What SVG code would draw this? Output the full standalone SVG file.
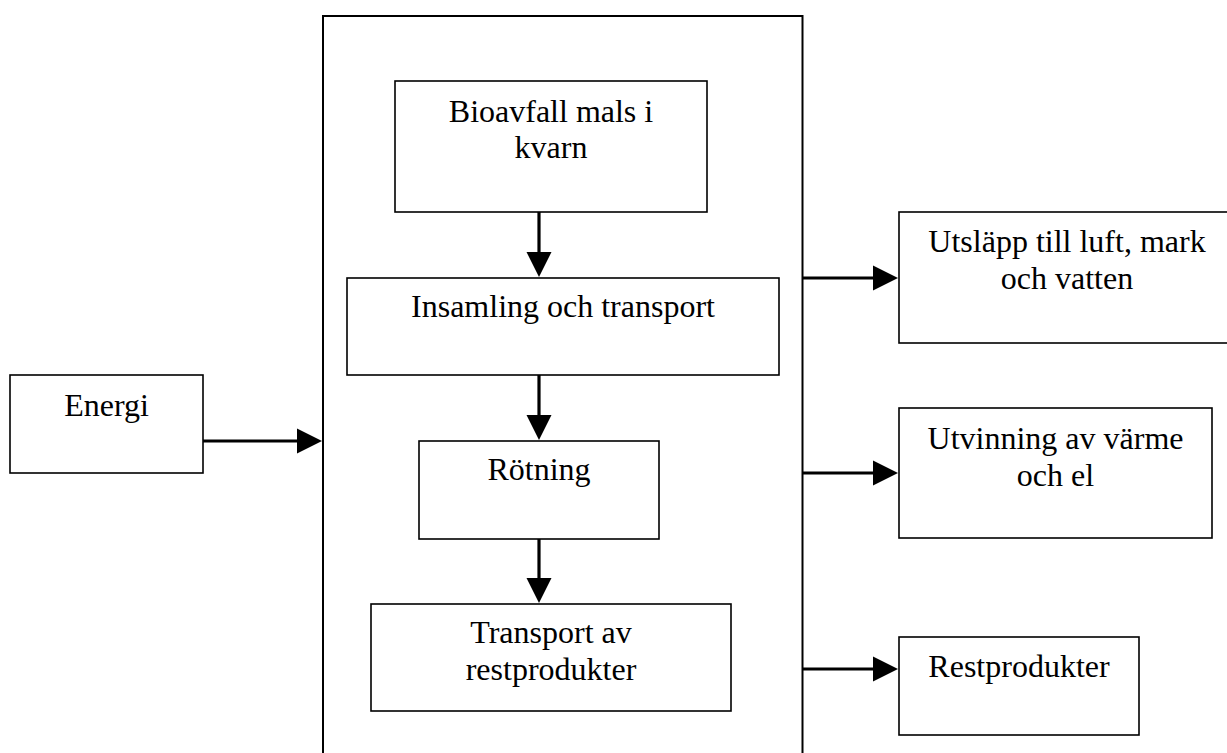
<svg xmlns="http://www.w3.org/2000/svg" width="1227" height="753" viewBox="0 0 1227 753">
<style>
.box{fill:#fff;stroke:#000;stroke-width:1.6}
.frame{fill:none;stroke:#000;stroke-width:2}
.t{font-family:"Liberation Serif","Times New Roman",serif;font-size:32px;fill:#000;text-anchor:middle}
.c{stroke:#000;stroke-width:3.2;fill:none}
.h{fill:#000;stroke:none}
</style>
<rect width="1227" height="753" fill="#fff"/>
<g id="container"><path class="frame" d="M323 760 V16 H802.5 V760"/></g>
<g id="n-bioavfall"><rect class="box" x="395" y="81" width="312" height="131"/><text class="t" x="551" y="122">Bioavfall mals i</text><text class="t" x="551" y="158">kvarn</text></g>
<g id="n-insamling"><rect class="box" x="347" y="278" width="432" height="97"/><text class="t" x="563" y="317">Insamling och transport</text></g>
<g id="n-rotning"><rect class="box" x="419" y="441" width="240" height="98"/><text class="t" x="539" y="480">Rötning</text></g>
<g id="n-transport"><rect class="box" x="371" y="604" width="360" height="107"/><text class="t" x="551" y="643">Transport av</text><text class="t" x="551" y="680">restprodukter</text></g>
<g id="n-energi"><rect class="box" x="10" y="375" width="193" height="98"/><text class="t" x="106.5" y="416">Energi</text></g>
<g id="n-utslapp"><rect class="box" x="899" y="212" width="337" height="131"/><text class="t" x="1067" y="252">Utsläpp till luft, mark</text><text class="t" x="1067" y="289">och vatten</text></g>
<g id="n-utvinning"><rect class="box" x="899" y="408" width="313" height="130"/><text class="t" x="1055.5" y="449">Utvinning av värme</text><text class="t" x="1055.5" y="486">och el</text></g>
<g id="n-restprodukter"><rect class="box" x="899" y="637" width="240" height="98"/><text class="t" x="1019" y="677">Restprodukter</text></g>
<g id="connectors">
<line class="c" x1="539" y1="212" x2="539" y2="253"/><polygon class="h" points="526.5,252 551.5,252 539,277"/>
<line class="c" x1="539" y1="375" x2="539" y2="416"/><polygon class="h" points="526.5,415 551.5,415 539,440"/>
<line class="c" x1="539" y1="539" x2="539" y2="579"/><polygon class="h" points="526.5,578 551.5,578 539,603"/>
<line class="c" x1="203" y1="441" x2="298" y2="441"/><polygon class="h" points="297,428.5 297,453.5 322,441"/>
<line class="c" x1="803" y1="278" x2="874" y2="278"/><polygon class="h" points="873,265.5 873,290.5 898,278"/>
<line class="c" x1="803" y1="473" x2="874" y2="473"/><polygon class="h" points="873,460.5 873,485.5 898,473"/>
<line class="c" x1="803" y1="669" x2="874" y2="669"/><polygon class="h" points="873,656.5 873,681.5 898,669"/>
</g>
</svg>
